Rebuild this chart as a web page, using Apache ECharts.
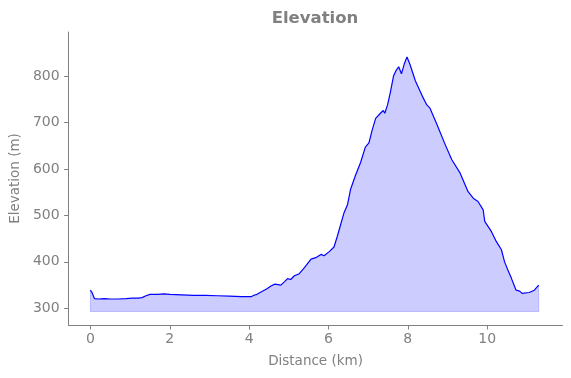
<!DOCTYPE html>
<html>
<head>
<meta charset="utf-8">
<script src="https://cdn.jsdelivr.net/npm/echarts@6/dist/echarts.min.js"></script>
<style>
  html, body { margin: 0; padding: 0; background: #fff; }
  #container { width: 571px; height: 378px; }
</style>
</head>
<body>
<div id="container"></div>
<script>
// distance along the route (km) and elevation (m)
const distance = [
    0.00, 0.05, 0.10, 0.20, 0.35, 0.50, 0.70, 0.90, 1.05, 1.20,
    1.30, 1.40, 1.50, 1.70, 1.85, 2.00, 2.30, 2.60, 2.90, 3.20,
    3.50, 3.80, 4.05, 4.12, 4.20, 4.30, 4.45, 4.55, 4.65, 4.80,
    4.90, 4.97, 5.05, 5.14, 5.26, 5.40, 5.56, 5.68, 5.81, 5.89,
    6.02, 6.14, 6.22, 6.31, 6.39, 6.48, 6.56, 6.68, 6.81, 6.93,
    7.02, 7.10, 7.19, 7.31, 7.38, 7.42, 7.49, 7.56, 7.64, 7.71,
    7.77, 7.84, 7.91, 7.98, 8.06, 8.19, 8.36, 8.48, 8.56, 8.73,
    8.94, 9.11, 9.32, 9.52, 9.65, 9.77, 9.90, 9.94, 10.11, 10.23,
    10.36, 10.44, 10.52, 10.61, 10.73, 10.82, 10.88, 11.06, 11.19, 11.30
];
const elevation = [
    339, 332, 321, 320, 321, 320, 320, 321, 322, 322,
    323, 327, 330, 330, 331, 330, 329, 328, 328, 327,
    326, 325, 325, 328, 330, 335, 342, 348, 352, 350,
    358, 364, 362, 370, 374, 388, 406, 409, 416, 413,
    422, 432, 454, 481, 505, 523, 557, 586, 614, 647,
    656, 683, 709, 720, 726, 720, 738, 765, 800, 813,
    820, 805, 826, 841, 824, 790, 758, 738, 731, 697,
    653, 620, 591, 551, 537, 530, 512, 487, 465, 444,
    426, 400, 383, 365, 339, 337, 332, 334, 339, 350
];
const fillBase = 293;
const xTicks = [0, 2, 4, 6, 8, 10];
const yTicks = [300, 400, 500, 600, 700, 800];

const gray = '#808080';
const profile = distance.map((d, i) => [d, elevation[i]]);
const last = distance.length - 1;
// outline of the filled area (left side, bottom, right side)
const edge = [
    [distance[0], elevation[0]],
    [distance[0], fillBase],
    [distance[last], fillBase],
    [distance[last], elevation[last]]
];

let myChart = echarts.init(document.getElementById('container'), null, { renderer: 'canvas' });

let option = {
    animation: false,
    title: {
        text: 'Elevation',
        left: 310,
        top: 5,
        textAlign: 'center',
        textStyle: {
            color: gray,
            fontFamily: 'DejaVu Sans',
            fontWeight: 'bold',
            fontSize: 16.5
        }
    },
    grid: {
        left: 66.5,
        right: 8.5,
        top: 32,
        bottom: 53
    },
    xAxis: {
        type: 'value',
        min: -0.55,
        max: 11.9,
        name: 'Distance (km)',
        nameLocation: 'middle',
        nameGap: 29,
        nameTextStyle: { color: gray, fontFamily: 'DejaVu Sans', fontSize: 13.5 },
        splitLine: { show: false },
        axisLine: { onZero: false, lineStyle: { color: gray, width: 1 } },
        axisTick: { show: true, length: 4.5, customValues: xTicks, lineStyle: { color: gray } },
        axisLabel: {
            customValues: xTicks,
            color: gray,
            fontFamily: 'DejaVu Sans',
            fontSize: 14,
            margin: 7
        }
    },
    yAxis: {
        type: 'value',
        min: 264,
        max: 895,
        name: 'Elevation (m)',
        nameLocation: 'middle',
        nameGap: 43,
        nameTextStyle: { color: gray, fontFamily: 'DejaVu Sans', fontSize: 13.5 },
        splitLine: { show: false },
        axisLine: { show: true, onZero: false, lineStyle: { color: gray, width: 1 } },
        axisTick: { show: true, length: 4.5, customValues: yTicks, lineStyle: { color: gray } },
        axisLabel: {
            customValues: yTicks,
            color: gray,
            fontFamily: 'DejaVu Sans',
            fontSize: 14,
            margin: 9
        }
    },
    series: [
        {
            name: 'Fill edge',
            type: 'line',
            data: edge,
            symbol: 'none',
            silent: true,
            lineStyle: { color: 'rgba(0,0,255,0.2)', width: 1 },
            z: 1
        },
        {
            name: 'Elevation',
            type: 'line',
            data: profile,
            symbol: 'none',
            lineStyle: { color: '#0000ff', width: 1.2 },
            areaStyle: { color: 'rgba(0,0,255,0.2)', origin: fillBase, opacity: 1 },
            z: 2
        }
    ]
};
myChart.setOption(option);
</script>
</body>
</html>
